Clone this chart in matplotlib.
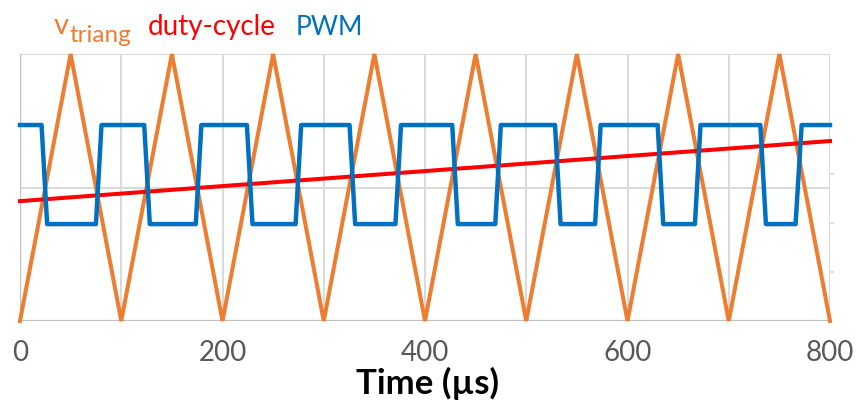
import matplotlib
matplotlib.use("Agg")
import matplotlib.pyplot as plt

# triangle carrier (vertices)
tri_t = [0, 50, 100, 150, 200, 250, 300, 350, 400, 450, 500, 550, 600, 650, 700, 750, 800]
tri_v = [0, 1, 0, 1, 0, 1, 0, 1, 0, 1, 0, 1, 0, 1, 0, 1, 0]

# duty-cycle reference (straight ramp)
duty_t = [0, 800]
duty_v = [0.449, 0.674]

# PWM output, edges
pwm_t = [0, 21.3, 26.8, 75.0, 80.5, 122.7, 128.2, 173.6, 179.1, 224.1, 229.6,
         272.2, 277.7, 325.5, 331.0, 370.8, 376.3, 426.9, 432.4, 469.4, 474.9,
         528.4, 533.9, 568.0, 573.5, 629.8, 635.3, 666.6, 672.1, 731.2, 736.7,
         766.0, 772.0, 800]
pwm_v = [0.734, 0.734, 0.363, 0.363] * 8 + [0.734, 0.734]

xticks = [0, 200, 400, 600, 800]
xgrid = [0, 100, 200, 300, 400, 500, 600, 700, 800]
ygrid = [0, 0.5, 1]

ORANGE = "#ED7D31"
RED = "#FF0000"
BLUE = "#0070C0"
GRID = "#D9D9D9"

fig = plt.figure(figsize=(8.58, 4.02), dpi=100)
ax = fig.add_axes([20 / 858, 80 / 402, 810 / 858, 267 / 402])

ax.plot(tri_t, tri_v, color=ORANGE, lw=2.9, solid_joinstyle="miter", zorder=3, clip_on=False)
ax.plot(duty_t, duty_v, color=RED, lw=2.9, zorder=4, clip_on=False)
ax.plot(pwm_t, pwm_v, color=BLUE, lw=3.2, solid_joinstyle="round", zorder=5, clip_on=False)

ax.set_xlim(0, 800)
ax.set_ylim(0, 1)
for x in xgrid:
    ax.axvline(x, color=GRID, lw=1.4, zorder=1)
for y in ygrid:
    ax.axhline(y, color=GRID, lw=1.4, zorder=1)
for s in ax.spines.values():
    s.set_visible(False)
ax.axvline(0, color="#BFBFBF", lw=1.6, zorder=2)
ax.axhline(0, color="#BFBFBF", lw=1.6, zorder=2)

ax.set_xticks(xticks)
ax.set_xticklabels([str(v) for v in xticks], fontsize=20, color="#595959", family="Lato")
ax.tick_params(axis="x", length=0, pad=13)
ax.set_yticks([])

# faint ticks of the secondary axis on the right
ax2 = ax.twinx()
ax2.set_ylim(0, 1)
ax2.set_yticks([0.184, 0.367, 0.551])
ax2.set_yticklabels([])
ax2.tick_params(axis="y", length=3, color=GRID, width=1.2)
for s in ax2.spines.values():
    s.set_visible(False)

# axis title
fig.text(428 / 858, 8 / 402, "Time (µs)", fontsize=25, fontweight="bold", family="Lato",
         color="black", ha="center", va="baseline")

# legend as coloured title text
fig.text(54 / 858, 1 - 34 / 402, "v", color=ORANGE, fontsize=21, family="Lato", va="baseline")
fig.text(70 / 858, 1 - 42 / 402, "triang", color=ORANGE, fontsize=17.5, family="Lato", va="baseline")
fig.text(148 / 858, 1 - 35 / 402, "duty-cycle", color=RED, fontsize=20, family="Lato", va="baseline")
fig.text(296 / 858, 1 - 35 / 402, "PWM", color=BLUE, fontsize=19, family="Lato", va="baseline")

fig.savefig("out.png", dpi=100)
